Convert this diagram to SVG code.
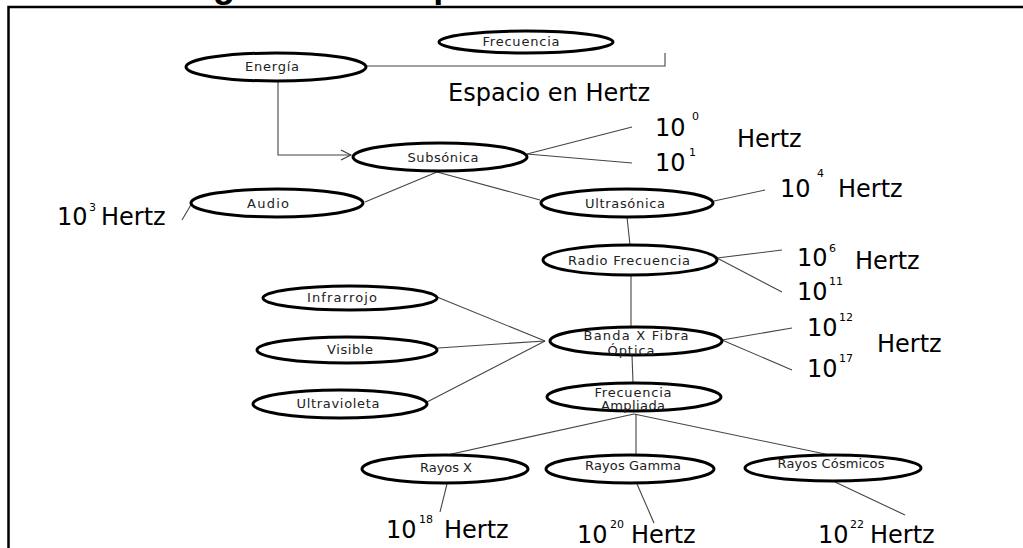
<svg xmlns="http://www.w3.org/2000/svg" width="1023" height="548" viewBox="0 0 1023 548">
  <style>
    .n ellipse { fill: #fff; stroke: #000; stroke-width: 3; }
    .lbl { font-family: "DejaVu Sans", "Open Sans", sans-serif; font-size: 13px; fill: #222; text-anchor: middle; }
    .big { font-family: "DejaVu Sans", sans-serif; font-size: 24px; fill: #000; }
    .num { font-family: "DejaVu Sans", sans-serif; font-size: 24px; fill: #000; }
    .sup { font-family: "DejaVu Sans", sans-serif; font-size: 11px; fill: #000; }
    .c line, .c polyline { stroke: #444; stroke-width: 1.1; fill: none; }
    .title { font-family: "Liberation Sans", Arial, sans-serif; font-weight: bold; font-size: 36px; fill: #000; }
  </style>
  <defs>
    <marker id="open" viewBox="0 0 12 12" refX="11" refY="6" markerWidth="12" markerHeight="12" markerUnits="userSpaceOnUse" orient="auto">
      <path d="M1,1 L11,6 L1,11" fill="none" stroke="#333" stroke-width="1.1"/>
    </marker>
  </defs>

  <rect width="1023" height="548" fill="#fff"/>

  <!-- heading, mostly above the page -->
  <text class="title" x="157" y="-3">Diagrama del espectro</text>

  <!-- page frame -->
  <polyline points="1030,7 8.5,7 8.5,560" fill="none" stroke="#000" stroke-width="2.5"/>

  <!-- connectors -->
  <g class="c" id="connectors">
    <polyline points="367,66 665,66 665,53"/>
    <polyline points="278,82 278,155 351,155" marker-end="url(#open)"/>
    <line x1="527" y1="154" x2="632" y2="127"/>
    <line x1="527" y1="154" x2="632" y2="163"/>
    <line x1="437" y1="172" x2="365" y2="202"/>
    <line x1="437" y1="172" x2="540" y2="200"/>
    <line x1="192" y1="203" x2="182" y2="220"/>
    <line x1="714" y1="201" x2="765" y2="190"/>
    <line x1="627" y1="217" x2="630" y2="245"/>
    <line x1="717" y1="258" x2="782" y2="250"/>
    <line x1="717" y1="258" x2="782" y2="292"/>
    <line x1="631" y1="275" x2="631" y2="327"/>
    <line x1="437" y1="297" x2="545" y2="341"/>
    <line x1="438" y1="348" x2="545" y2="341"/>
    <line x1="427" y1="402" x2="545" y2="341"/>
    <line x1="722" y1="340" x2="792" y2="328"/>
    <line x1="722" y1="340" x2="792" y2="370"/>
    <line x1="632" y1="355" x2="633" y2="383"/>
    <line x1="634" y1="414" x2="447" y2="455"/>
    <line x1="634" y1="414" x2="830" y2="455"/>
    <line x1="636" y1="414" x2="636" y2="455"/>
    <line x1="447" y1="484" x2="440" y2="512"/>
    <line x1="637" y1="484" x2="654" y2="523"/>
    <line x1="835" y1="482" x2="905" y2="515"/>
  </g>

  <!-- nodes -->
  <g class="n" id="frecuencia">
    <ellipse cx="526" cy="42" rx="87" ry="11"/>
    <text class="lbl" x="521" y="46" textLength="77" lengthAdjust="spacing">Frecuencia</text>
  </g>
  <g class="n" id="energia">
    <ellipse cx="276" cy="67" rx="90" ry="14"/>
    <text class="lbl" x="272" y="71" textLength="54" lengthAdjust="spacing">Energía</text>
  </g>
  <g class="n" id="subsonica">
    <ellipse cx="440" cy="157" rx="87" ry="14"/>
    <text class="lbl" x="443" y="162" textLength="71" lengthAdjust="spacing">Subsónica</text>
  </g>
  <g class="n" id="audio">
    <ellipse cx="277" cy="203" rx="86" ry="14"/>
    <text class="lbl" x="268" y="208" textLength="42" lengthAdjust="spacing">Audio</text>
  </g>
  <g class="n" id="ultrasonica">
    <ellipse cx="627" cy="203" rx="86" ry="14"/>
    <text class="lbl" x="625" y="208" textLength="80" lengthAdjust="spacing">Ultrasónica</text>
  </g>
  <g class="n" id="radio-frecuencia">
    <ellipse cx="630" cy="260" rx="87" ry="15"/>
    <text class="lbl" x="629" y="265" textLength="122" lengthAdjust="spacing">Radio Frecuencia</text>
  </g>
  <g class="n" id="infrarrojo">
    <ellipse cx="350" cy="298" rx="87" ry="12"/>
    <text class="lbl" x="342" y="302" textLength="70" lengthAdjust="spacing">Infrarrojo</text>
  </g>
  <g class="n" id="visible">
    <ellipse cx="347" cy="350" rx="90" ry="13"/>
    <text class="lbl" x="350" y="354" textLength="46" lengthAdjust="spacing">Visible</text>
  </g>
  <g class="n" id="ultravioleta">
    <ellipse cx="340" cy="404" rx="87" ry="14"/>
    <text class="lbl" x="338" y="408" textLength="83" lengthAdjust="spacing">Ultravioleta</text>
  </g>
  <g class="n" id="banda-x">
    <ellipse cx="636" cy="341" rx="86" ry="14"/>
    <text class="lbl" x="636" y="340" textLength="105" lengthAdjust="spacing">Banda X Fibra</text>
    <text class="lbl" x="631" y="355" textLength="47" lengthAdjust="spacing">Óptica</text>
  </g>
  <g class="n" id="frecuencia-ampliada">
    <ellipse cx="634" cy="397" rx="87" ry="14"/>
    <text class="lbl" x="633" y="397" textLength="77" lengthAdjust="spacing">Frecuencia</text>
    <text class="lbl" x="633" y="410" textLength="64" lengthAdjust="spacing">Ampliada</text>
  </g>
  <g class="n" id="rayos-x">
    <ellipse cx="445" cy="469" rx="83" ry="14"/>
    <text class="lbl" x="446" y="472" textLength="52" lengthAdjust="spacing">Rayos X</text>
  </g>
  <g class="n" id="rayos-gamma">
    <ellipse cx="630" cy="469" rx="84" ry="14"/>
    <text class="lbl" x="633" y="470" textLength="96" lengthAdjust="spacing">Rayos Gamma</text>
  </g>
  <g class="n" id="rayos-cosmicos">
    <ellipse cx="833" cy="468" rx="88" ry="13"/>
    <text class="lbl" x="831" y="468" textLength="107" lengthAdjust="spacing">Rayos Cósmicos</text>
  </g>

  <!-- frequency annotations -->
  <g id="annotations">
    <text class="big" x="448" y="101" font-size="23">Espacio en Hertz</text>

    <text class="num" x="655" y="136">10</text><text class="sup" x="692" y="120">0</text>
    <text class="big" x="737" y="147">Hertz</text>
    <text class="num" x="655" y="171">10</text><text class="sup" x="689" y="156">1</text>

    <text class="num" x="57" y="225">10</text><text class="sup" x="89" y="211">3</text>
    <text class="big" x="101" y="225">Hertz</text>

    <text class="num" x="780" y="197">10</text><text class="sup" x="817" y="177">4</text>
    <text class="big" x="838" y="197">Hertz</text>

    <text class="num" x="797" y="266">10</text><text class="sup" x="829" y="252">6</text>
    <text class="big" x="855" y="269">Hertz</text>
    <text class="num" x="797" y="300">10</text><text class="sup" x="829" y="285">11</text>

    <text class="num" x="807" y="336">10</text><text class="sup" x="839" y="321">12</text>
    <text class="big" x="877" y="352">Hertz</text>
    <text class="num" x="807" y="377">10</text><text class="sup" x="839" y="362">17</text>

    <text class="num" x="386" y="538">10</text><text class="sup" x="419" y="523">18</text>
    <text class="big" x="444" y="538">Hertz</text>

    <text class="num" x="577" y="543">10</text><text class="sup" x="610" y="528">20</text>
    <text class="big" x="631" y="543">Hertz</text>

    <text class="num" x="818" y="543">10</text><text class="sup" x="850" y="528">22</text>
    <text class="big" x="870" y="543">Hertz</text>
  </g>
</svg>
